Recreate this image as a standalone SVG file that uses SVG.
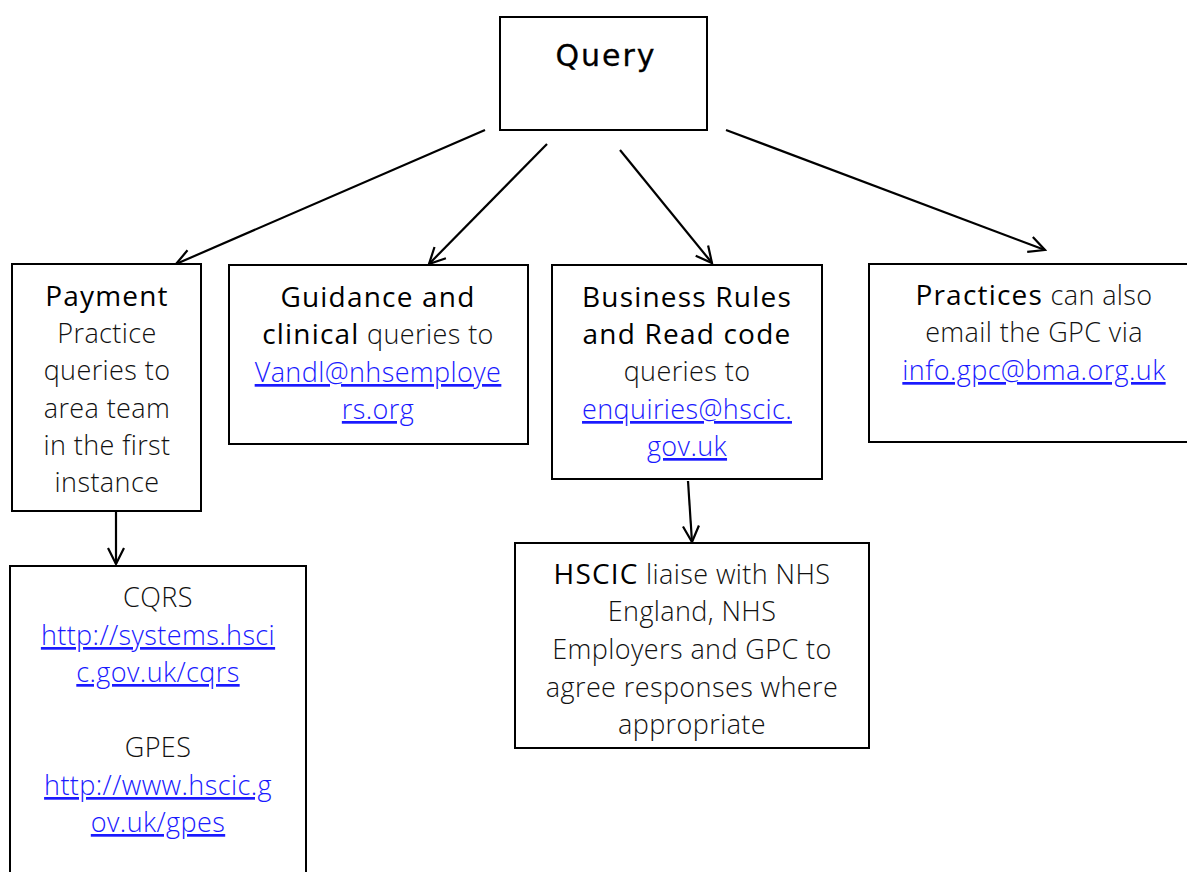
<svg xmlns="http://www.w3.org/2000/svg" width="1187" height="872" viewBox="0 0 1187 872">
<style>
.box{fill:#fff;stroke:#000;stroke-width:2}
.t{font-family:"Open Sans","Liberation Sans",sans-serif;font-size:27px;font-weight:300;letter-spacing:0.4px;fill:#111;text-anchor:middle}
.b{font-weight:400;fill:#000;font-size:28px;letter-spacing:1.2px}
.l{fill:#1a1aff;text-decoration:underline}
.c{fill:none;stroke:#000;stroke-width:2.2}
</style>
<defs>
<marker id="ah" viewBox="0 0 20 20" refX="18" refY="10" markerWidth="20" markerHeight="20" markerUnits="userSpaceOnUse" orient="auto">
<path d="M2,2 L18,10 L2,18" fill="none" stroke="#000" stroke-width="2.2"/>
</marker>
</defs>
<rect width="1187" height="872" fill="#fff"/>
<g id="connectors">
<line class="c" x1="485" y1="130" x2="176" y2="264" marker-end="url(#ah)"/>
<line class="c" x1="547" y1="144" x2="429" y2="264" marker-end="url(#ah)"/>
<line class="c" x1="620" y1="150" x2="712" y2="263" marker-end="url(#ah)"/>
<line class="c" x1="726" y1="130" x2="1045" y2="250" marker-end="url(#ah)"/>
<line class="c" x1="116" y1="505" x2="116" y2="564" marker-end="url(#ah)"/>
<line class="c" x1="688" y1="481" x2="692" y2="542" marker-end="url(#ah)"/>
</g>
<g id="query">
<rect class="box" x="500" y="17" width="207" height="113"/>
<text x="606" y="66" style="font-family:'DejaVu Sans',sans-serif;font-size:30px;text-anchor:middle;letter-spacing:2px;stroke:#000;stroke-width:0.3">Query</text>
</g>
<g id="payment">
<rect class="box" x="12" y="264" width="189" height="247"/>
<text class="t" x="107"><tspan class="b" x="107" y="306">Payment</tspan><tspan x="107" y="343">Practice</tspan><tspan x="107" y="380">queries to</tspan><tspan x="107" y="418">area team</tspan><tspan x="107" y="455">in the first</tspan><tspan x="107" y="492">instance</tspan></text>
</g>
<g id="guidance">
<rect class="box" x="229" y="265" width="299" height="179"/>
<text class="t"><tspan class="b" x="378" y="307">Guidance and</tspan><tspan x="378" y="344"><tspan class="b">clinical</tspan> queries to</tspan><tspan class="l" x="378" y="382">Vandl@nhsemploye</tspan><tspan class="l" x="378" y="419">rs.org</tspan></text>
</g>
<g id="business">
<rect class="box" x="552" y="265" width="270" height="214"/>
<text class="t"><tspan class="b" x="687" y="307">Business Rules</tspan><tspan class="b" x="687" y="344">and Read code</tspan><tspan x="687" y="381">queries to</tspan><tspan class="l" x="687" y="419">enquiries@hscic.</tspan><tspan class="l" x="687" y="456">gov.uk</tspan></text>
</g>
<g id="practices">
<rect class="box" x="869" y="264" width="330" height="178"/>
<text class="t"><tspan x="1034" y="305"><tspan class="b">Practices</tspan> can also</tspan><tspan x="1034" y="342">email the GPC via</tspan><tspan class="l" x="1034" y="380">info.gpc@bma.org.uk</tspan></text>
</g>
<g id="cqrs">
<rect class="box" x="10" y="566" width="296" height="320"/>
<text class="t"><tspan x="158" y="607">CQRS</tspan><tspan class="l" x="158" y="645">http://systems.hsci</tspan><tspan class="l" x="158" y="682">c.gov.uk/cqrs</tspan><tspan x="158" y="757">GPES</tspan><tspan class="l" x="158" y="795">http://www.hscic.g</tspan><tspan class="l" x="158" y="832">ov.uk/gpes</tspan></text>
</g>
<g id="hscic">
<rect class="box" x="515" y="543" width="354" height="205"/>
<text class="t"><tspan x="692" y="584"><tspan class="b">HSCIC</tspan> liaise with NHS</tspan><tspan x="692" y="621">England, NHS</tspan><tspan x="692" y="659">Employers and GPC to</tspan><tspan x="692" y="697">agree responses where</tspan><tspan x="692" y="734">appropriate</tspan></text>
</g>
</svg>
